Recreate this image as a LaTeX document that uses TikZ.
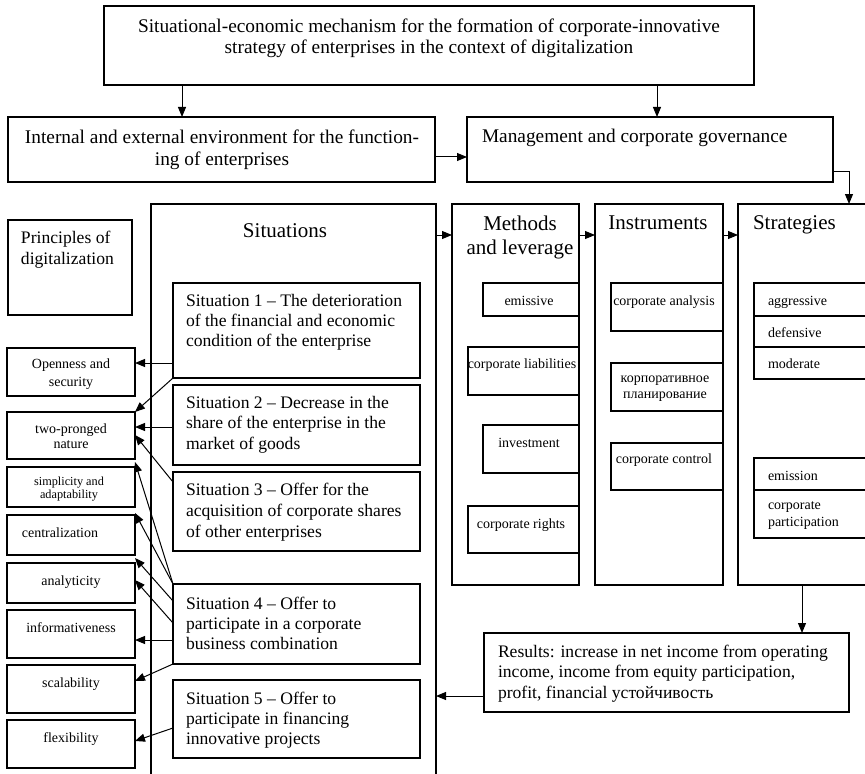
\documentclass[tikz,border=0pt]{standalone}
\usepackage{fontspec}
\setmainfont{Liberation Serif}
\usetikzlibrary{arrows.meta,fit}

% font sizes used in the scheme (optional argument: line spacing)
\newcommand\fhead[1][15.75pt]{\fontsize{14.5pt}{#1}\selectfont}
\newcommand\fbig[1][18pt]{\fontsize{15.75pt}{#1}\selectfont}
\newcommand\fmed[1][15.2pt]{\fontsize{13.2pt}{#1}\selectfont}
\newcommand\fsmall[1][12pt]{\fontsize{10.5pt}{#1}\selectfont}
\newcommand\ftiny[1][9.8pt]{\fontsize{9.2pt}{#1}\selectfont}

\begin{document}
\begin{tikzpicture}[
  x=0.75pt, y=-0.75pt,
  box/.style={draw, line width=0.9pt, inner sep=0pt, outer sep=0pt},
  txt/.style={inner sep=0pt, outer sep=0pt},
  arr/.style={-{Triangle[length=7.5pt,width=6pt]}, line width=0.75pt},
]
\useasboundingbox (0,0) rectangle (865,774);
\clip (0,0) rectangle (865,774);

% ---------- top level ----------
\node[box, fit={(104,6) (754,85)}] (top) {};
\node[txt, anchor=north, align=center, font={\fhead[15.75pt]}] (ttop) at (429,19)
  {Situational-economic mechanism for the formation of corporate-innovative\\
   strategy of enterprises in the context of digitalization};

\node[box, fit={(8,117) (435,182)}] (env) {};
\node[txt, anchor=north, align=center, font={\fhead[16.5pt]}] (tenv) at (222,130)
  {Internal and external environment for the function-\\ing of enterprises};

\node[box, fit={(467,117) (833,182)}] (mgmt) {};
\node[txt, anchor=mid west, font=\fhead] (tmgmt) at (482,139) {Management and corporate governance};

% ---------- principles of digitalization ----------
\node[box, fit={(8,220) (132,315)}] (princ) {};
\node[txt, anchor=north west, align=left, font={\fmed[15.75pt]}] (tprinc) at (21,231)
  {Principles of\\digitalization};

\node[box, fit={(7,348) (135,396)}] (open) {};
\node[txt, anchor=north, align=center, font={\fsmall[13.5pt]}] (topen) at (71,359) {Openness and\\security};
\node[box, fit={(7,412) (135,459)}] (two) {};
\node[txt, anchor=north, align=center, font={\fsmall[11.25pt]}] (ttwo) at (71,424) {two-pronged\\nature};
\node[box, fit={(7,467) (135,507)}] (simp) {};
\node[txt, anchor=north, align=center, font=\ftiny] (tsimp) at (69,477) {simplicity and\\adaptability};
\node[box, fit={(7,515) (135,555)}] (cent) {};
\node[txt, anchor=mid, font=\fsmall] (tcent) at (60,534) {centralization};
\node[box, fit={(7,563) (135,603)}] (anal) {};
\node[txt, anchor=mid, font=\fsmall] (tanal) at (71,582) {analyticity};
\node[box, fit={(7,610) (135,658)}] (info) {};
\node[txt, anchor=mid, font=\fsmall] (tinfo) at (71,629) {informativeness};
\node[box, fit={(7,665) (135,713)}] (scal) {};
\node[txt, anchor=mid, font=\fsmall] (tscal) at (71,684) {scalability};
\node[box, fit={(7,720) (135,768)}] (flex) {};
\node[txt, anchor=mid, font=\fsmall] (tflex) at (71,739) {flexibility};

% ---------- situations ----------
\node[box, fit={(151,204) (436,800)}] (sit) {};
\node[txt, anchor=mid, font=\fbig] (tsit) at (285,234) {Situations};

\node[box, fit={(173,283) (420,378)}] (s1) {};
\node[txt, anchor=north west, align=left, font={\fmed[15pt]}] (ts1) at (186,294)
  {Situation 1 -- The deterioration\\of the financial and economic\\condition of the enterprise};
\node[box, fit={(173,385) (420,465)}] (s2) {};
\node[txt, anchor=north west, align=left, font={\fmed[15.4pt]}] (ts2) at (186,396)
  {Situation 2 -- Decrease in the\\share of the enterprise in the\\market of goods};
\node[box, fit={(173,472) (420,551)}] (s3) {};
\node[txt, anchor=north west, align=left, font={\fmed[15.75pt]}] (ts3) at (186,483)
  {Situation 3 -- Offer for the\\acquisition of corporate shares\\of other enterprises};
\node[box, fit={(173,584) (420,664)}] (s4) {};
\node[txt, anchor=north west, align=left, font={\fmed[15pt]}] (ts4) at (186,597)
  {Situation 4 -- Offer to\\participate in a corporate\\business combination};
\node[box, fit={(173,680) (420,758)}] (s5) {};
\node[txt, anchor=north west, align=left, font={\fmed[15pt]}] (ts5) at (186,692)
  {Situation 5 -- Offer to\\participate in financing\\innovative projects};

% ---------- methods and leverage ----------
\node[box, fit={(452,204) (579,585)}] (meth) {};
\node[txt, anchor=north, align=center, font=\fbig] (tmeth) at (520,216) {Methods\\and leverage};
\node[box, fit={(483,283) (579,316)}] (emis) {};
\node[txt, anchor=mid, font=\fsmall] (temis) at (529,302) {emissive};
\node[box, fit={(468,347) (579,395)}] (liab) {};
\node[txt, anchor=mid, font=\fsmall] (tliab) at (522,365) {corporate liabilities};
\node[box, fit={(483,425) (579,473)}] (inv) {};
\node[txt, anchor=mid, font=\fsmall] (tinv) at (529,444) {investment};
\node[box, fit={(468,506) (579,553)}] (rights) {};
\node[txt, anchor=mid, font=\fsmall] (trights) at (521,525) {corporate rights};

% ---------- instruments ----------
\node[box, fit={(595,204) (723,585)}] (instr) {};
\node[txt, anchor=mid, font=\fbig] (tinstr) at (658,226) {Instruments};
\node[box, fit={(611,283) (723,331)}] (canal) {};
\node[txt, anchor=mid, font=\fsmall] (tcanal) at (664,302) {corporate analysis};
\node[box, fit={(611,363) (723,411)}] (cplan) {};
\node[txt, anchor=north, align=center, font=\fsmall] (tcplan) at (665,376) {корпоративное\\планирование};
\node[box, fit={(611,443) (723,490)}] (cctrl) {};
\node[txt, anchor=mid, font=\fsmall] (tcctrl) at (664,460) {corporate control};

% ---------- strategies ----------
\node[box, fit={(738,204) (868,585)}] (strat) {};
\node[txt, anchor=mid west, font=\fbig] (tstrat) at (753,226) {Strategies};
\node[box, fit={(754,283) (868,316)}] (aggr) {};
\node[txt, anchor=mid west, font=\fsmall] (taggr) at (768,302) {aggressive};
\node[box, fit={(754,316) (868,347)}] (defn) {};
\node[txt, anchor=mid west, font=\fsmall] (tdefn) at (768,334) {defensive};
\node[box, fit={(754,347) (868,379)}] (modr) {};
\node[txt, anchor=mid west, font=\fsmall] (tmodr) at (768,365) {moderate};
\node[box, fit={(754,458) (868,490)}] (emiss) {};
\node[txt, anchor=mid west, font=\fsmall] (temiss) at (768,477) {emission};
\node[box, fit={(754,490) (868,538)}] (cpart) {};
\node[txt, anchor=north west, align=left, font={\fsmall[12.75pt]}] (tcpart) at (768,502) {corporate\\participation};

% ---------- results ----------
\node[box, fit={(484,633) (849,712)}] (res) {};
\node[txt, anchor=north west, align=left, font={\fmed[15.4pt]}] (tres) at (498,645)
  {Results: increase in net income from operating\\income, income from equity participation,\\profit, financial устойчивость};

% ---------- connectors ----------
\draw[arr] (top.south -| 182,0) -- (env.north -| 182,0);
\draw[arr] (top.south -| 657,0) -- (mgmt.north -| 657,0);
\draw[arr] (env.east |- 0,157) -- (mgmt.west |- 0,157);
\draw[arr] (mgmt.east |- 0,172) -| (strat.north -| 849,0);
\draw[arr] (sit.east |- 0,235) -- (meth.west |- 0,235);
\draw[arr] (meth.east |- 0,235) -- (instr.west |- 0,235);
\draw[arr] (instr.east |- 0,235) -- (strat.west |- 0,235);
\draw[arr] (strat.south -| 802,0) -- (res.north -| 802,0);
\draw[arr] (res.west |- 0,696) -- (sit.east |- 0,696);

\draw[arr] (s1.west |- 0,363) -- (open.east |- 0,363);
\draw[arr] (s1.south west) -- (two.north east);
\draw[arr] (s2.west |- 0,427) -- (two.east |- 0,427);
\draw[arr] (s3.west |- 0,482) -- (two.east |- 0,435);
\draw[arr] (s4.north west) -- (two.east |- 0,462);
\draw[arr] (s4.north west) -- (cent.east |- 0,513);
\draw[arr] (s4.west |- 0,601) -- (anal.east |- 0,558);
\draw[arr] (s4.west |- 0,623) -- (anal.east |- 0,580);
\draw[arr] (s4.west |- 0,640) -- (info.east |- 0,640);
\draw[arr] (s4.south west) -- (scal.east |- 0,681);
\draw[arr] (s5.west |- 0,728) -- (flex.east |- 0,741);
\end{tikzpicture}
\end{document}
